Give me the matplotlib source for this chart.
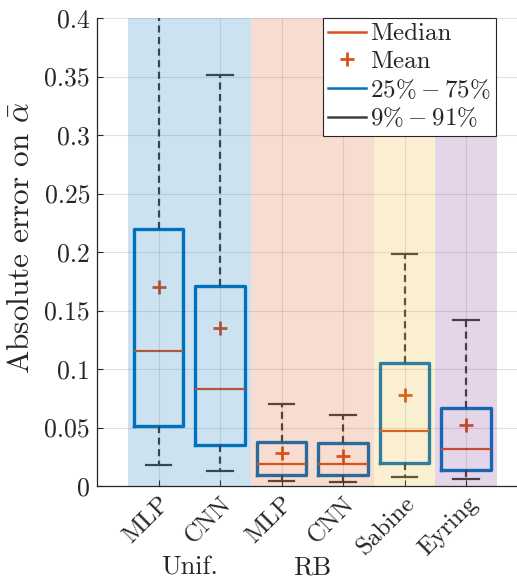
import numpy as np
import matplotlib
matplotlib.use('Agg')
import matplotlib.pyplot as plt
from matplotlib.lines import Line2D

plt.rcParams['font.family'] = ['cmr10', 'DejaVu Serif']
plt.rcParams['mathtext.fontset'] = 'cm'
plt.rcParams['axes.formatter.use_mathtext'] = True

labels = ['MLP', 'CNN', 'MLP', 'CNN', 'Sabine', 'Eyring']
whislo = [0.018, 0.013, 0.004, 0.003, 0.008, 0.006]
q1 = [0.051, 0.035, 0.009, 0.009, 0.020, 0.014]
med = [0.115, 0.083, 0.019, 0.019, 0.047, 0.032]
mean = [0.170, 0.135, 0.028, 0.026, 0.078, 0.052]
q3 = [0.220, 0.171, 0.038, 0.037, 0.105, 0.067]
whishi = [0.420, 0.351, 0.070, 0.061, 0.198, 0.142]

groups = ['Unif.', 'RB']
bands = [(0.5, 2.5), (2.5, 4.5), (4.5, 5.5), (5.5, 6.5)]
band_colors = ['#0072BD', '#D95319', '#EDB120', '#7E2F8E']

yticks = [0, 0.05, 0.1, 0.15, 0.2, 0.25, 0.3, 0.35, 0.4]
ytick_labels = ['0', '0.05', '0.1', '0.15', '0.2', '0.25', '0.3', '0.35', '0.4']

blue = '#0072BD'
red = '#D95319'
dark = '#404040'
txt = '#262626'

stats = [dict(label=l, whislo=a, q1=b, med=c, mean=d, q3=e, whishi=f)
         for l, a, b, c, d, e, f in zip(labels, whislo, q1, med, mean, q3, whishi)]

fig = plt.figure(figsize=(5.17, 5.81), dpi=100)
ax = fig.add_axes([97/517, 95/581, 430.5/517, 468/581])

pos = np.arange(1, len(labels) + 1)
ax.bxp(stats, positions=pos, widths=0.8, showmeans=True, showfliers=False,
       boxprops=dict(color=blue, linewidth=2.4),
       medianprops=dict(color=red, linewidth=1.6),
       meanprops=dict(marker='+', markeredgecolor=red, markersize=10,
                      markeredgewidth=2.0, linestyle='none'),
       whiskerprops=dict(color=dark, linewidth=1.6, linestyle=(0, (3.2, 2.0))),
       capprops=dict(color=dark, linewidth=1.6),
       capwidths=0.42, manage_ticks=False, zorder=2)

# coloured bands drawn over the boxes, like MATLAB's transparent patches
for (x0, x1), c in zip(bands, band_colors):
    ax.axvspan(x0, x1, color=c, alpha=0.2, lw=0, zorder=3)

ax.set_xlim(0, 7)
ax.set_ylim(0, 0.4)
ax.set_yticks(yticks)
ax.set_yticklabels(ytick_labels, fontsize=18.5)
ax.set_xticks(pos)
ax.set_xticklabels(labels, fontsize=18, rotation=45, ha='right',
                   rotation_mode='anchor')
ax.tick_params(direction='in', length=4, width=0.8, colors=txt,
               labelcolor=txt, pad=5)
ax.grid(True, color=txt, alpha=0.13, linewidth=0.8, zorder=4)
ax.set_axisbelow(False)
for s in ['top', 'right']:
    ax.spines[s].set_visible(False)
for s in ['left', 'bottom']:
    ax.spines[s].set_color(txt)
    ax.spines[s].set_linewidth(0.9)

ax.set_ylabel(r'Absolute error on $\bar{\alpha}$', fontsize=22.5, color=txt)
ax.yaxis.set_label_coords(-0.143, 0.53)

# group labels under the rotated tick labels
for g, x in zip(groups, [1.5, 3.5]):
    ax.text(x, -0.076, g, ha='center', va='baseline', fontsize=19,
            color=txt, clip_on=False)

handles = [
    Line2D([], [], color=red, lw=1.8),
    Line2D([], [], color=red, marker='+', ls='none', ms=10, mew=2),
    Line2D([], [], color=blue, lw=1.8),
    Line2D([], [], color=dark, lw=1.8),
]
names = ['Median', 'Mean', r'$25\%-75\%$', r'$9\%-91\%$']
leg = ax.legend(handles, names, loc='upper left',
                bbox_to_anchor=((323 - 97) / 430.5, 1.0),
                fontsize=18, frameon=True, fancybox=False, framealpha=1,
                edgecolor=txt, handlelength=1.5, handletextpad=0.2,
                borderpad=0.2, labelspacing=0.2, borderaxespad=0)
leg.get_frame().set_linewidth(0.8)
leg.set_zorder(10)
for t in leg.get_texts():
    t.set_color(txt)

fig.savefig('out.png', dpi=100)
